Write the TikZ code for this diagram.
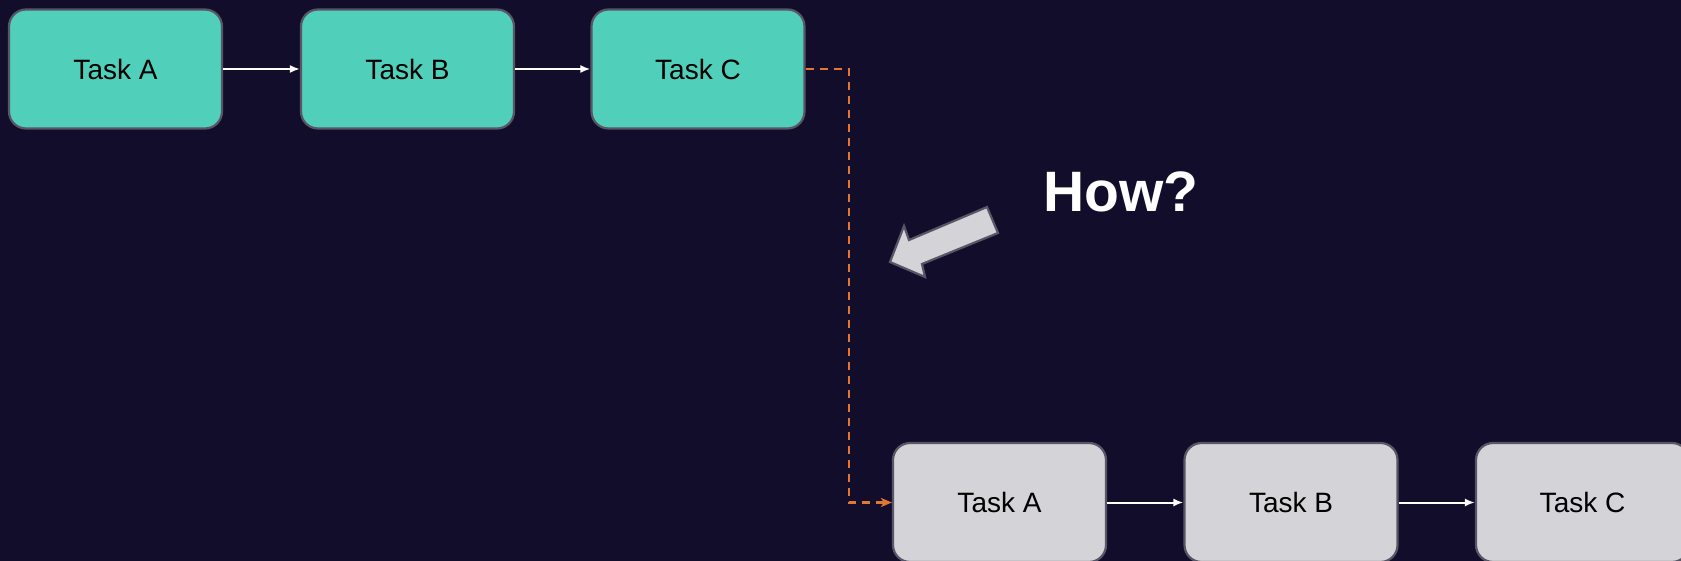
\documentclass[tikz,border=0pt]{standalone}
\usepackage{fontspec}
\setmainfont{Liberation Sans}
\usetikzlibrary{arrows.meta}

\definecolor{bgnavy}{RGB}{17,13,42}
\definecolor{tealbox}{RGB}{80,208,186}
\definecolor{greybox}{RGB}{212,212,216}
\definecolor{boxedge}{RGB}{88,86,102}
\definecolor{flowline}{RGB}{228,118,52}

\tikzset{
  taskbox/.style={draw=boxedge, line width=2.2pt, rounded corners=17pt,
    minimum width=213pt, minimum height=119pt, inner sep=0pt,
    font=\fontsize{28}{28}\selectfont, text=black},
  oldtask/.style={taskbox, fill=tealbox},
  newtask/.style={taskbox, fill=greybox},
  link/.style={draw=white, line width=2pt, -{Latex[length=10pt,width=8pt]}},
  migrate/.style={draw=flowline, line width=2.2pt, dash pattern=on 8pt off 6pt,
    -{Stealth[length=11pt,width=9pt,inset=3pt]}}
}

\begin{document}
\begin{tikzpicture}[x=1pt, y=-1pt]
  % canvas
  \fill[bgnavy] (0,0) rectangle (1681,561);
  \useasboundingbox (0,0) rectangle (1681,561);

  % current pipeline
  \node[oldtask] (tA) at (115.5,69) {Task A};
  \node[oldtask] (tB) at (407.5,69) {Task B};
  \node[oldtask] (tC) at (698,69) {Task C};
  \draw[link] (tA) -- (tB);
  \draw[link] (tB) -- (tC);

  % target pipeline
  \node[newtask] (bA) at (999.5,502.5) {Task A};
  \node[newtask] (bB) at (1291,502.5) {Task B};
  \node[newtask] (bC) at (1582.5,502.5) {Task C};
  \draw[link] (bA) -- (bB);
  \draw[link] (bB) -- (bC);

  % hand-over path
  \coordinate (bend) at (849,69);
  \draw[migrate] (tC.east) -- (bend) |- (bA.west);

  % pointer arrow and question
  \draw[draw=boxedge, line width=2.2pt, fill=greybox, line join=miter]
    (987,207) -- (998,233) -- (922,264) -- (925,277) -- (890,262)
    -- (904,226) -- (909,240) -- cycle;
  \node[anchor=base west, inner sep=0pt, text=white,
        font=\fontsize{57}{57}\selectfont\bfseries] (how) at (1043,212) {How?};
\end{tikzpicture}
\end{document}
